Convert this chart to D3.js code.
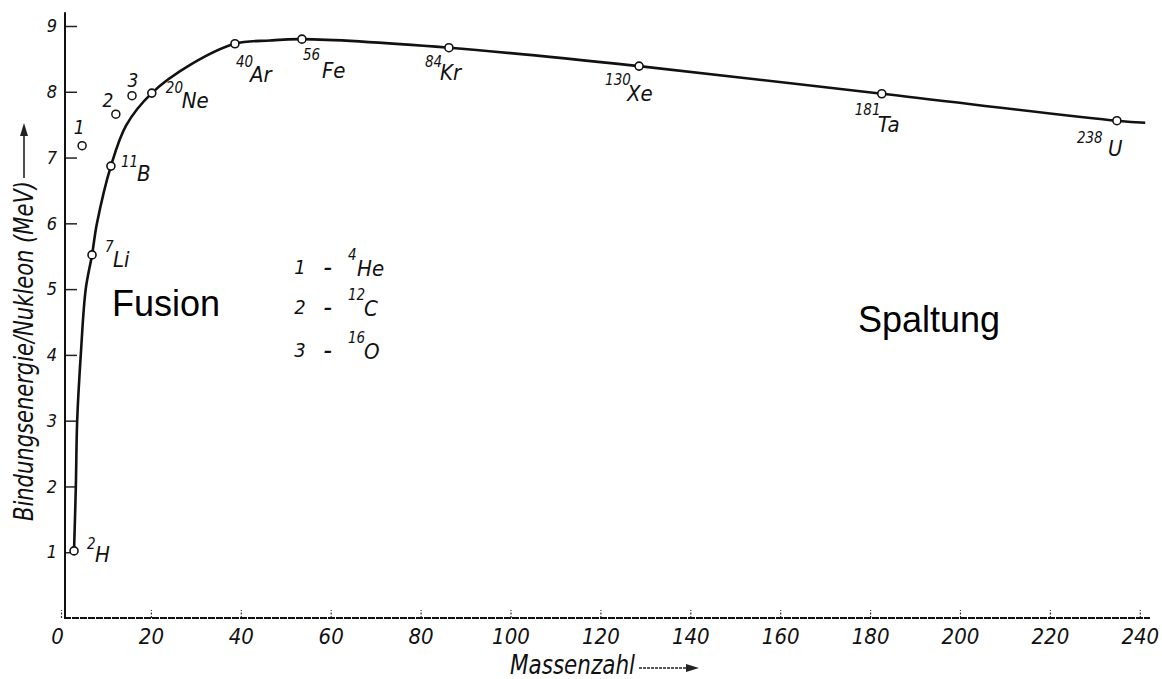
<!DOCTYPE html>
<html>
<head>
<meta charset="utf-8">
<script src="https://cdn.jsdelivr.net/npm/d3@7"></script>
<style>
  html, body { margin: 0; padding: 0; background: #fff; }
  svg { display: block; }
  .hand { font-family: "Liberation Sans Narrow", "DejaVu Sans Condensed", "Liberation Sans", sans-serif; font-style: italic; fill: #111; }
  .plain { font-family: "Liberation Sans", Arial, sans-serif; fill: #000; }
</style>
</head>
<body>
<script>
// ---------- data ----------
const curveA = [2.9, 3.3, 3.6, 4.4, 5.5, 6.9, 8.0, 11.1, 14.5, 20.2, 29.0, 38.7, 46.5, 53.6, 86.3, 128.6, 182.6, 234.9, 241.2];
const curveB = [1.02, 2.0, 3.0, 4.0, 5.0, 5.52, 6.0, 6.87, 7.49, 7.98, 8.42, 8.73, 8.78, 8.80, 8.67, 8.39, 7.97, 7.56, 7.53];

const nuclideMass = ["2", "7", "11", "20", "40", "56", "84", "130", "181", "238"];
const nuclideSym  = ["H", "Li", "B", "Ne", "Ar", "Fe", "Kr", "Xe", "Ta", "U"];
const nuclideA    = [2.9, 6.9, 11.1, 20.2, 38.7, 53.6, 86.3, 128.6, 182.6, 234.9];
const nuclideB    = [1.02, 5.52, 6.87, 7.98, 8.73, 8.80, 8.67, 8.39, 7.97, 7.56];

const offNum = ["1", "2", "3"];
const offA   = [4.7, 12.2, 15.8];
const offB   = [7.18, 7.66, 7.94];

const legendNum  = ["1", "2", "3"];
const legendMass = ["4", "12", "16"];
const legendSym  = ["He", "C", "O"];

const xTicks = [0, 20, 40, 60, 80, 100, 120, 140, 160, 180, 200, 220, 240];
const yTicks = [1, 2, 3, 4, 5, 6, 7, 8, 9];

const xTitle = "Massenzahl";
const yTitle = "Bindungsenergie/Nukleon (MeV)";
const regionLabels = ["Fusion", "Spaltung"];

// ---------- layout (positions / styles) ----------
const W = 1162, H = 679;
// label offsets relative to each nuclide point: [supDx, supDy, symDx, symDy]
const nucOffsets = [
  [13, -7, 21, 4], [13, -8, 21, 5], [10, -4, 26, 7], [14, -5, 30, 7],
  [1, 18, 15, 31], [1, 16, 20, 31], [-24, 14, -9, 25], [-34, 14, -12, 27],
  [-27, 16, -4, 31], [-40, 17, -9, 28]
];
const offNumOffsets = [[-3, -19], [-8, -14], [1, -16]];
const legendRowsY = [267, 307, 350];

const svg = d3.select("body").append("svg").attr("width", W).attr("height", H);

const x = d3.scaleLinear().domain([0, 240]).range([61, 1139.8]);
const y = d3.scaleLinear().domain([0, 9]).range([618, 26]);

// axes
const xAxis = svg.append("g").attr("transform", `translate(0,${y(0)})`)
  .call(d3.axisBottom(x).tickValues(xTicks).tickSize(-8).tickSizeOuter(0).tickPadding(10));
xAxis.select(".domain").remove();
xAxis.selectAll(".tick line").attr("stroke", "#333").attr("stroke-width", 1.2).attr("stroke-dasharray", "2,1.5");
xAxis.selectAll(".tick text").attr("class", "hand").style("font-size", "22px").attr("fill", "#111");
xAxis.selectAll(".tick").filter(d => d === 0).select("text").attr("dx", -4);

const yAxis = svg.append("g").attr("transform", "translate(65,0)")
  .call(d3.axisLeft(y).tickValues(yTicks).tickSize(-12).tickSizeOuter(0).tickPadding(8));
yAxis.select(".domain").remove();
yAxis.selectAll(".tick line").attr("stroke", "#222").attr("stroke-width", 1.5);
yAxis.selectAll(".tick text").attr("class", "hand").style("font-size", "18px").attr("fill", "#111");

// axis lines
svg.append("line").attr("x1", 65).attr("x2", 65).attr("y1", y(9.21)).attr("y2", y(0) + 1)
  .attr("stroke", "#111").attr("stroke-width", 2);
svg.append("line").attr("x1", 64).attr("x2", 1150).attr("y1", y(0)).attr("y2", y(0))
  .attr("stroke", "#111").attr("stroke-width", 2).attr("stroke-dasharray", "7,1");

// curve
const curvePts = curveA.map((a, i) => [a, curveB[i]]);
svg.append("path").datum(curvePts)
  .attr("d", d3.line().x(d => x(d[0])).y(d => y(d[1])).curve(d3.curveCatmullRom.alpha(0.5)))
  .attr("fill", "none").attr("stroke", "#111").attr("stroke-width", 2.6);

// nuclide points on curve
const nuc = nuclideA.map((a, i) => ({ a, b: nuclideB[i], m: nuclideMass[i], s: nuclideSym[i], o: nucOffsets[i] }));
svg.selectAll("circle.nuc").data(nuc).join("circle").attr("class", "nuc")
  .attr("cx", d => x(d.a)).attr("cy", d => y(d.b)).attr("r", 4)
  .attr("fill", "#fff").attr("stroke", "#111").attr("stroke-width", 1.6);
svg.selectAll("text.sup").data(nuc).join("text").attr("class", "hand sup")
  .attr("x", d => x(d.a) + d.o[0]).attr("y", d => y(d.b) + d.o[1])
  .attr("dominant-baseline", "central").style("font-size", "15px").text(d => d.m);
svg.selectAll("text.sym").data(nuc).join("text").attr("class", "hand sym")
  .attr("x", d => x(d.a) + d.o[2]).attr("y", d => y(d.b) + d.o[3])
  .attr("dominant-baseline", "central").style("font-size", "22px").text(d => d.s);

// off-curve points (He, C, O)
const off = offA.map((a, i) => ({ a, b: offB[i], n: offNum[i], o: offNumOffsets[i] }));
svg.selectAll("circle.off").data(off).join("circle").attr("class", "off")
  .attr("cx", d => x(d.a)).attr("cy", d => y(d.b)).attr("r", 4)
  .attr("fill", "#fff").attr("stroke", "#111").attr("stroke-width", 1.5);
svg.selectAll("text.offn").data(off).join("text").attr("class", "hand offn")
  .attr("x", d => x(d.a) + d.o[0]).attr("y", d => y(d.b) + d.o[1])
  .attr("text-anchor", "middle").attr("dominant-baseline", "central")
  .style("font-size", "19px").text(d => d.n);

// legend
const leg = legendNum.map((n, i) => ({ n, m: legendMass[i], s: legendSym[i], yy: legendRowsY[i] }));
const lg = svg.append("g");
lg.selectAll("text.ln").data(leg).join("text").attr("class", "hand ln")
  .attr("x", 300).attr("y", d => d.yy).attr("text-anchor", "middle").attr("dominant-baseline", "central")
  .style("font-size", "20px").text(d => d.n);
lg.selectAll("text.ld").data(leg).join("text").attr("class", "hand ld")
  .attr("x", 328).attr("y", d => d.yy).attr("text-anchor", "middle").attr("dominant-baseline", "central")
  .style("font-size", "18px").style("font-weight", "bold").text("–");
lg.selectAll("text.lm").data(leg).join("text").attr("class", "hand lm")
  .attr("x", 348).attr("y", d => d.yy - 12).attr("dominant-baseline", "central")
  .style("font-size", "15px").text(d => d.m);
lg.selectAll("text.ls").data(leg).join("text").attr("class", "hand ls")
  .attr("x", (d, i) => i === 0 ? 357 : 364).attr("y", d => d.yy + 1).attr("dominant-baseline", "central")
  .style("font-size", "22px").text(d => d.s);

// region labels
svg.append("text").attr("class", "plain").attr("x", 112).attr("y", 316)
  .style("font-size", "36px").text(regionLabels[0]);
svg.append("text").attr("class", "plain").attr("x", 858).attr("y", 332)
  .style("font-size", "36px").text(regionLabels[1]);

// axis titles
svg.append("text").attr("class", "hand").attr("x", 510).attr("y", 674)
  .style("font-size", "27px").attr("textLength", 125).attr("lengthAdjust", "spacingAndGlyphs").text(xTitle);
svg.append("line").attr("x1", 639).attr("x2", 688).attr("y1", 668).attr("y2", 668)
  .attr("stroke", "#222").attr("stroke-width", 1.6).attr("stroke-dasharray", "3,1");
svg.append("path").attr("d", "M686,664 L699,668 L686,672 Z").attr("fill", "#222");

svg.append("text").attr("class", "hand")
  .attr("transform", "translate(33,521) rotate(-90)")
  .style("font-size", "27px").attr("textLength", 340).attr("lengthAdjust", "spacingAndGlyphs").text(yTitle);
svg.append("line").attr("x1", 24).attr("x2", 24).attr("y1", 178).attr("y2", 133)
  .attr("stroke", "#222").attr("stroke-width", 1.6);
svg.append("path").attr("d", "M20,136 L24,123 L28,136 Z").attr("fill", "#222");
</script>
</body>
</html>
